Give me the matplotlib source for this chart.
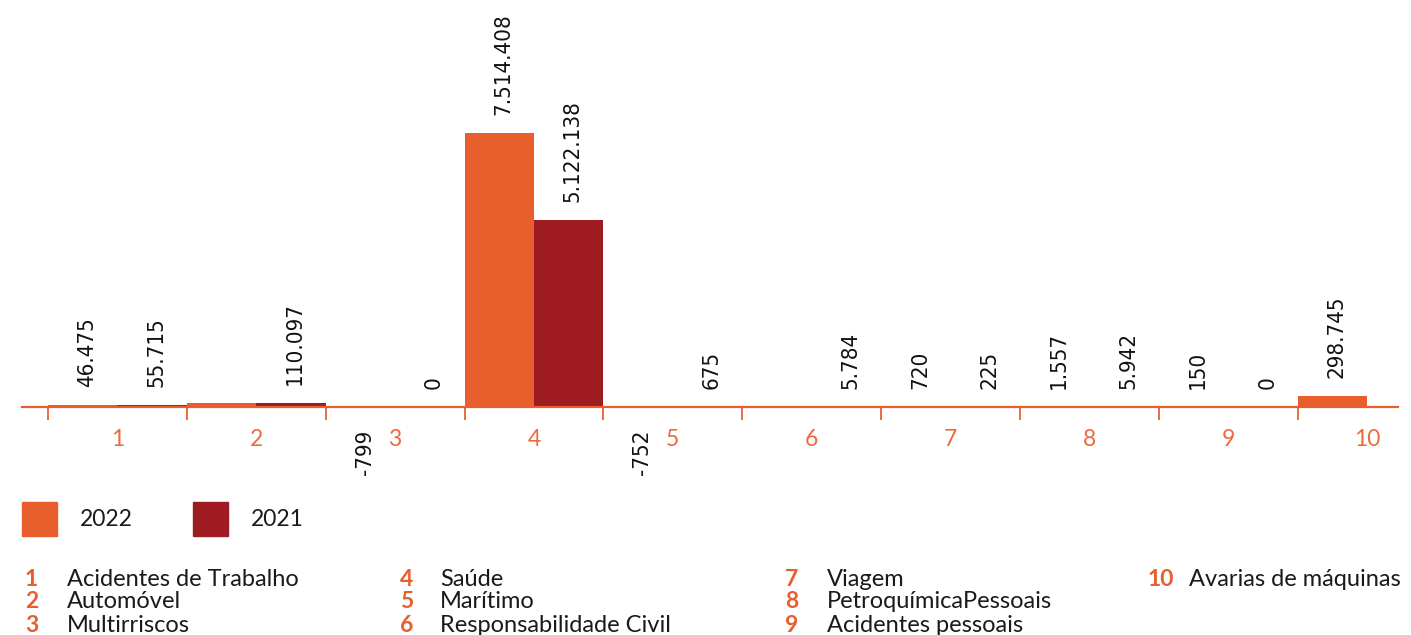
import matplotlib.pyplot as plt
from matplotlib.patches import Rectangle
import numpy as np

# claims by line of business, 2022 vs 2021
categories = ["Acidentes de Trabalho", "Automóvel", "Multirriscos", "Saúde",
              "Marítimo", "Responsabilidade Civil", "Viagem",
              "PetroquímicaPessoais", "Acidentes pessoais", "Avarias de máquinas"]
values_2022 = [46475, 110000, -799, 7514408, -752, 0, 720, 1557, 150, 298745]
values_2021 = [55715, 110097, 0, 5122138, 675, 5784, 225, 5942, 0, 0]
# some values carry no printed label
show_2022 = [True, False, True, True, True, False, True, True, True, True]
show_2021 = [True] * 10

ORANGE = "#E95E2D"
DARKRED = "#9E1B22"
W, H = 1411, 635


def fmt(v):
    return f"{v:,}".replace(",", ".")


fig = plt.figure(figsize=(W / 100, H / 100), dpi=100)
ax = fig.add_axes([22 / W, 1 - 407 / H, 1376 / W, 407 / H])

x = np.arange(len(categories))
bw = 0.5
ax.bar(x - bw / 2, values_2022, width=bw, color=ORANGE, clip_on=False)
ax.bar(x + bw / 2, values_2021, width=bw, color=DARKRED, clip_on=False)

ax.set_xlim(-0.687, 9.222)
ax.set_ylim(0, 7514408 * 407 / 274)

for s in ["top", "left", "right"]:
    ax.spines[s].set_visible(False)
ax.spines["bottom"].set_color(ORANGE)
ax.spines["bottom"].set_linewidth(1.6)
ax.set_yticks([])
ax.set_xticks(x - 0.5)
ax.set_xticklabels([])
ax.tick_params(axis="x", direction="out", length=9.5, width=1.3, color=ORANGE)

# category numbers under the axis
for i in x:
    ax.annotate(str(i + 1), xy=(i, 0), xytext=(0, -33 * 0.72), textcoords="offset points",
                ha="center", va="center", color="#EE6A3E", fontsize=16.5, family="Lato")

# value labels
lab_font = dict(family="DejaVu Sans", stretch="condensed", fontsize=16, color="#111111")
for vals, shows, off in [(values_2022, show_2022, -bw / 2), (values_2021, show_2021, bw / 2)]:
    for i, (v, s) in enumerate(zip(vals, shows)):
        if not s:
            continue
        if v < 0:
            ax.annotate(fmt(v), xy=(i + off, 0), xytext=(3, -23 * 0.72), textcoords="offset points",
                        ha="center", va="top", rotation=90, **lab_font)
        else:
            ax.annotate(fmt(v), xy=(i + off, v), xytext=(3, 18 * 0.72), textcoords="offset points",
                        ha="center", va="bottom", rotation=90, **lab_font)


def fx(px):
    return px / W


def fy(py):
    return 1 - py / H


# series legend
for x0, col, lbl in [(22, ORANGE, "2022"), (193, DARKRED, "2021")]:
    fig.add_artist(Rectangle((fx(x0), fy(536)), 35 / W, 34 / H, color=col, transform=fig.transFigure))
    fig.text(fx(x0 + 58), fy(520), lbl, va="center", ha="left", fontsize=16.5, family="Lato", color="#1a1a1a")

# category key
num_x = [25, 400, 785, 1148]
name_x = [67, 440, 827, 1189]
row_y = [579, 602, 626]
for i, name in enumerate(categories):
    c, r = divmod(i, 3)
    fig.text(fx(num_x[c]), fy(row_y[r]), str(i + 1), va="center", ha="left", fontsize=16.5,
             family="Lato", weight="bold", color=ORANGE)
    fig.text(fx(name_x[c]), fy(row_y[r]), name, va="center", ha="left", fontsize=17,
             family="Lato", color="#1a1a1a")

fig.savefig("out.png", dpi=100)
